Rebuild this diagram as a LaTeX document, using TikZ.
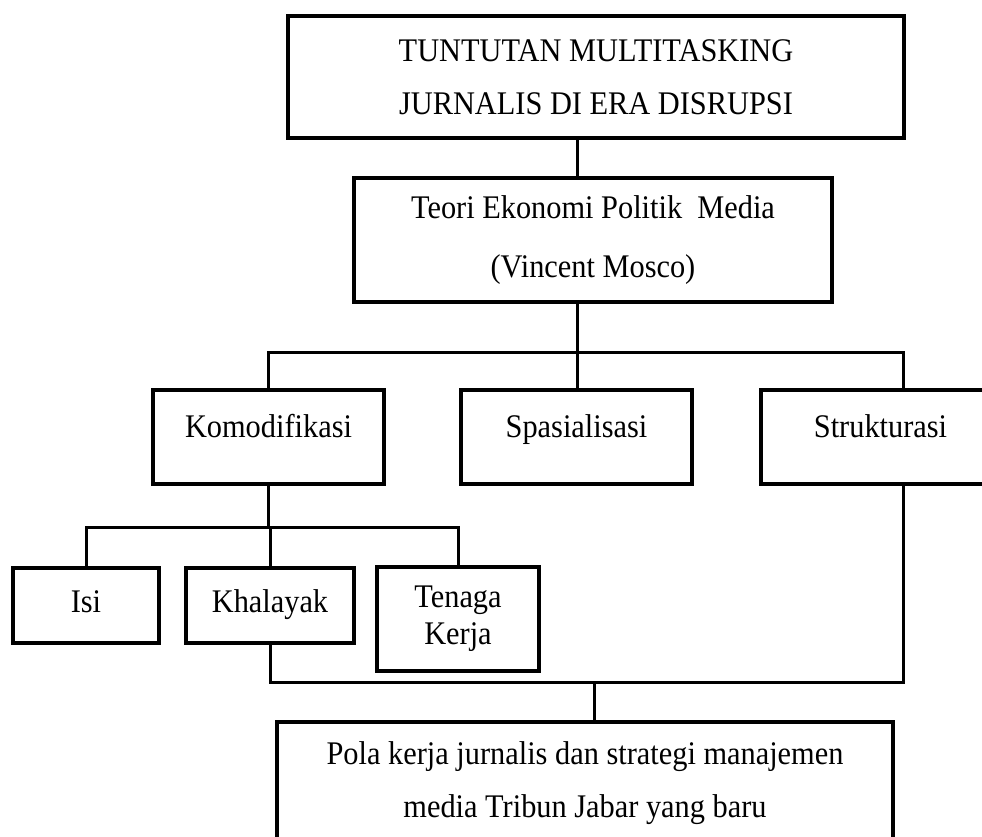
\documentclass[tikz,border=0pt]{standalone}
\usepackage{fontspec}
\setmainfont{Liberation Serif}[FakeStretch=0.92]
\begin{document}
\begin{tikzpicture}[x=1pt,y=-1pt,
    kotak/.style={draw,line width=3.4pt,inner sep=0pt,align=center,font=\fontsize{33}{53}\selectfont},
    satu/.style={text height=22pt,text depth=22pt},
    bawah/.style={text height=22pt,text depth=9pt},
    garis/.style={line width=3pt}]
    \useasboundingbox (0,0) rectangle (982,837);

    % kotak atas
    \node[kotak,minimum width=616pt,minimum height=122pt] (tuntutan) at (596,77)
        {TUNTUTAN MULTITASKING\\JURNALIS DI ERA DISRUPSI};
    \node[kotak,font=\fontsize{33}{59}\selectfont,minimum width=478pt,minimum height=124pt] (teori) at (593,240)
        {Teori Ekonomi Politik\ \ Media\\(Vincent Mosco)};

    % tiga dimensi
    \node[kotak,satu,minimum width=231pt,minimum height=94pt] (komodifikasi) at (268.5,437) {Komodifikasi};
    \node[kotak,satu,minimum width=231pt,minimum height=94pt] (spasialisasi) at (576.5,437) {Spasialisasi};
    \node[kotak,satu,minimum width=239pt,minimum height=94pt] (strukturasi) at (880.5,437) {Strukturasi};

    % komodifikasi
    \node[kotak,bawah,minimum width=146pt,minimum height=75pt] (isi) at (86,605.5) {Isi};
    \node[kotak,bawah,minimum width=168pt,minimum height=75pt] (khalayak) at (270,605.5) {Khalayak};
    \node[kotak,font=\fontsize{33}{37}\selectfont,minimum width=162pt,minimum height=104pt] (tenaga) at (458,619)
        {Tenaga\\Kerja};

    % kotak hasil
    \node[kotak,minimum width=616pt,minimum height=123pt] (pola) at (585,783.5)
        {Pola kerja jurnalis dan strategi manajemen\\media Tribun Jabar yang baru};

    % titik cabang
    \coordinate (j1) at (577,352);
    \coordinate (j2) at (903,352);
    \coordinate (j3) at (272,527);
    \coordinate (j4) at (594,682);

    % garis
    \draw[garis] (tuntutan.south -| j1) -- (teori.north -| j1);
    \draw[garis] (teori.south -| j1) -- (spasialisasi.north -| j1);
    \draw[garis] (komodifikasi.north) -- (komodifikasi.north |- j1) -- (j2) -- (strukturasi.north -| j2);
    \draw[garis] (komodifikasi.south) -- (komodifikasi.south |- j3);
    \draw[garis] (isi.north) -- (isi.north |- j3) -- (tenaga.north |- j3) -- (tenaga.north);
    \draw[garis] (khalayak.north) -- (khalayak.north |- j3);
    \draw[garis] (khalayak.south) -- (khalayak.south |- j4) -- (j4 -| j2) -- (strukturasi.south -| j2);
    \draw[garis] (j4) -- (pola.north -| j4);
\end{tikzpicture}
\end{document}
